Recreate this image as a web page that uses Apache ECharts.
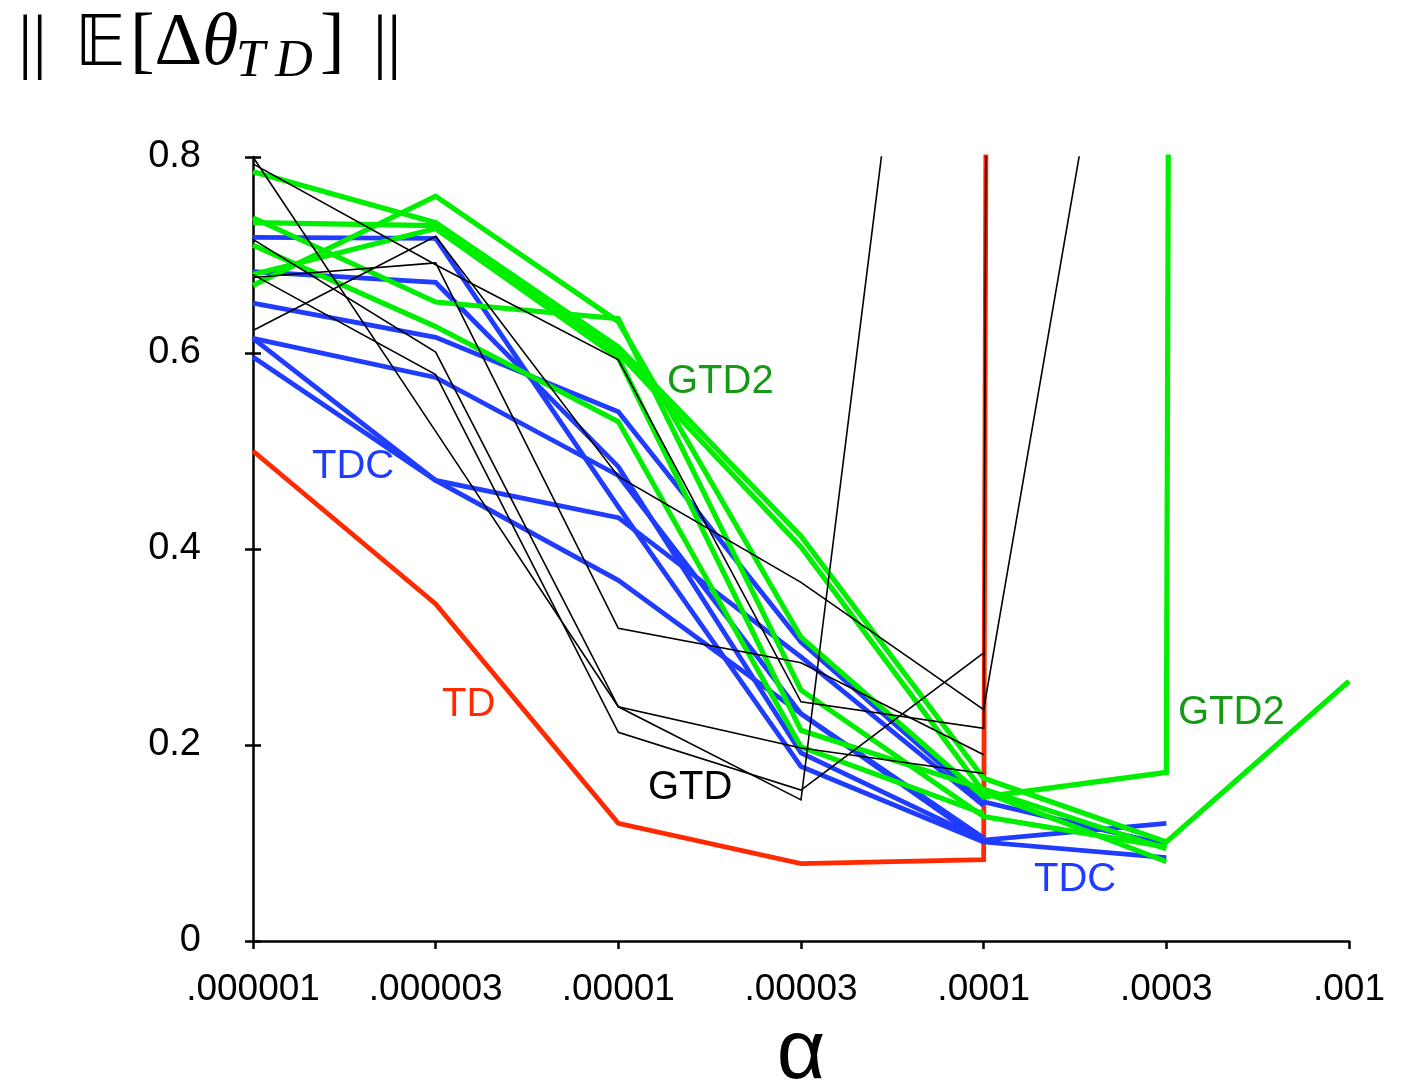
<!DOCTYPE html>
<html>
<head>
<meta charset="utf-8">
<script src="https://cdn.jsdelivr.net/npm/echarts@6/dist/echarts.min.js"></script>
<style>html,body{margin:0;padding:0;background:#fff}#c{width:1410px;height:1082px}</style>
</head>
<body>
<div id="c"></div>
<script>
// ---- data ----
var categories = ['.000001', '.000003', '.00001', '.00003', '.0001', '.0003', '.001'];
var yTicks = [0, 0.2, 0.4, 0.6, 0.8];

// TD (red)
var td = [0.5, 0.344, 0.12, 0.079, 0.083, 60];

// TDC (blue)
var tdc1 = [0.718, 0.717, 0.443, 0.178, 0.101];
var tdc2 = [0.683, 0.672, 0.484, 0.192, 0.103, 0.12];
var tdc3 = [0.651, 0.616, 0.54, 0.305, 0.142, 0.098];
var tdc4 = [0.615, 0.575, 0.475, 0.232, 0.101, 0.085];
var tdc5 = [0.615, 0.47, 0.432, 0.29, 0.138];
var tdc6 = [0.596, 0.47, 0.368, 0.232, 0.105];

// GTD2 (green)
var gtd2a = [0.785, 0.733, 0.606, 0.413, 0.166, 0.101, 0.265];
var gtd2b = [0.733, 0.730, 0.60, 0.402, 0.152, 0.081];
var gtd2c = [0.669, 0.760, 0.632, 0.31, 0.147, 0.172, 60];
var gtd2d = [0.738, 0.652, 0.635, 0.256, 0.127, 0.096];
var gtd2e = [0.68, 0.727, 0.595, 0.215, 0.155, 0.094];
var gtd2f = [0.71, 0.627, 0.53, 0.198, 0.13];

// GTD (black)
var gtd1 = [0.8, 0.52, 0.239, 0.144, 1.635];
var gtd2 = [0.793, 0.69, 0.593, 0.244, 0.217, 50];
var gtd3 = [0.623, 0.719, 0.474, 0.366, 0.236, 1.316];
var gtd4 = [0.677, 0.692, 0.319, 0.284, 0.19];
var gtd5 = [0.716, 0.601, 0.239, 0.197, 0.171];
var gtd6 = [0.68, 0.578, 0.213, 0.154, 0.294];

// ---- chart ----
var RED = '#ff2a00', BLUE = '#1f3cff', GREEN = '#00ee00', BLACK = '#000000';
function mk(data, color, width, z) {
  return { type: 'line', data: data, symbol: 'none', clip: true, z: z,
    lineStyle: { color: color, width: width, join: 'miter' }, silent: true, animation: false };
}
var series = [];
series.push(mk(td, RED, 4.8, 2));
[tdc1, tdc2, tdc3, tdc4, tdc5, tdc6].forEach(function (d) { series.push(mk(d, BLUE, 4.8, 3)); });
[gtd2a, gtd2b, gtd2c, gtd2d, gtd2e, gtd2f].forEach(function (d) { series.push(mk(d, GREEN, 5.2, 4)); });
[gtd1, gtd2, gtd3, gtd4, gtd5, gtd6].forEach(function (d) { series.push(mk(d, BLACK, 1.6, 5)); });

var lblFont = '"Liberation Sans", Arial, Helvetica, sans-serif';
var serif = '"Liberation Serif", "DejaVu Serif", serif';
var chart = echarts.init(document.getElementById('c'));
chart.setOption({
  animation: false,
  backgroundColor: '#fff',
  grid: { left: 253, right: 61, top: 157, bottom: 141, containLabel: false, outerBoundsMode: 'none' },
  xAxis: {
    type: 'category', data: categories, boundaryGap: false,
    axisLine: { lineStyle: { color: '#000', width: 2.5 } },
    axisTick: { show: true, inside: false, length: 8, lineStyle: { color: '#000', width: 2.5 } },
    axisLabel: { color: '#000', fontSize: 37, fontFamily: lblFont, margin: 30 },
    splitLine: { show: false },
    name: 'α', nameLocation: 'middle', nameGap: 68,
    nameTextStyle: { color: '#000', fontSize: 84, fontFamily: lblFont }
  },
  yAxis: [{
    type: 'value', min: 0, max: 0.8, interval: 0.2,
    axisLine: { show: true, lineStyle: { color: '#000', width: 2.5 } },
    axisTick: { show: true, inside: false, length: 8, lineStyle: { color: '#000', width: 2.5 } },
    axisLabel: { color: '#000', fontSize: 38, fontFamily: lblFont, margin: 52,
      formatter: function (v) { var t = yTicks.indexOf(Math.round(v * 10) / 10); return t >= 0 ? (v === 0 ? '0' : v.toFixed(1)) : ''; } },
    splitLine: { show: false }
  }, {
    type: 'value', min: 0, max: 0.8, interval: 0.2, position: 'left',
    axisLine: { show: false },
    axisTick: { show: true, inside: true, length: 8, lineStyle: { color: '#000', width: 2.5 } },
    axisLabel: { show: false }, splitLine: { show: false }
  }],
  series: series,
  graphic: [
    { type: 'text', left: 18, top: 8, z: 10, style: {
      text: '{b|||}{e|𝔼}{p|[Δ}{i|θ}',
      rich: {
        b: { fontSize: 72, fontFamily: serif, fill: '#000', verticalAlign: 'bottom', lineHeight: 90 },
        p: { fontSize: 74, fontFamily: serif, fill: '#000', verticalAlign: 'bottom', lineHeight: 90 },
        e: { fontSize: 70, fontFamily: '"DejaVu Sans", "DejaVu Serif", serif', fill: '#000', verticalAlign: 'bottom', lineHeight: 90, padding: [0, 4, 0, 28] },
        i: { fontSize: 74, fontStyle: 'italic', fontFamily: serif, fill: '#000', verticalAlign: 'bottom', lineHeight: 90 }
      } } },
    { type: 'text', left: 236, top: 36, z: 10, style: { text: 'T\u2009D', fill: '#000', font: 'italic 52px ' + serif } },
    { type: 'text', left: 320, top: 8, z: 10, style: {
      text: '{p|]}{b|||}',
      rich: {
        p: { fontSize: 74, fontFamily: serif, fill: '#000', verticalAlign: 'bottom', lineHeight: 90 },
        b: { fontSize: 72, fontFamily: serif, fill: '#000', verticalAlign: 'bottom', lineHeight: 90, padding: [0, 0, 0, 28] }
      } } },
    { type: 'text', left: 667, top: 362, z: 10, style: { text: 'GTD2', fill: '#169a16', font: '40px ' + lblFont } },
    { type: 'text', left: 312, top: 447, z: 10, style: { text: 'TDC', fill: '#1f3cff', font: '40px ' + lblFont } },
    { type: 'text', left: 442, top: 685, z: 10, style: { text: 'TD', fill: '#ff2a00', font: '40px ' + lblFont } },
    { type: 'text', left: 648, top: 768, z: 10, style: { text: 'GTD', fill: '#000', font: '40px ' + lblFont } },
    { type: 'text', left: 1178, top: 693, z: 10, style: { text: 'GTD2', fill: '#169a16', font: '40px ' + lblFont } },
    { type: 'text', left: 1034, top: 860, z: 10, style: { text: 'TDC', fill: '#1f3cff', font: '40px ' + lblFont } }
  ]
});
</script>
</body>
</html>
